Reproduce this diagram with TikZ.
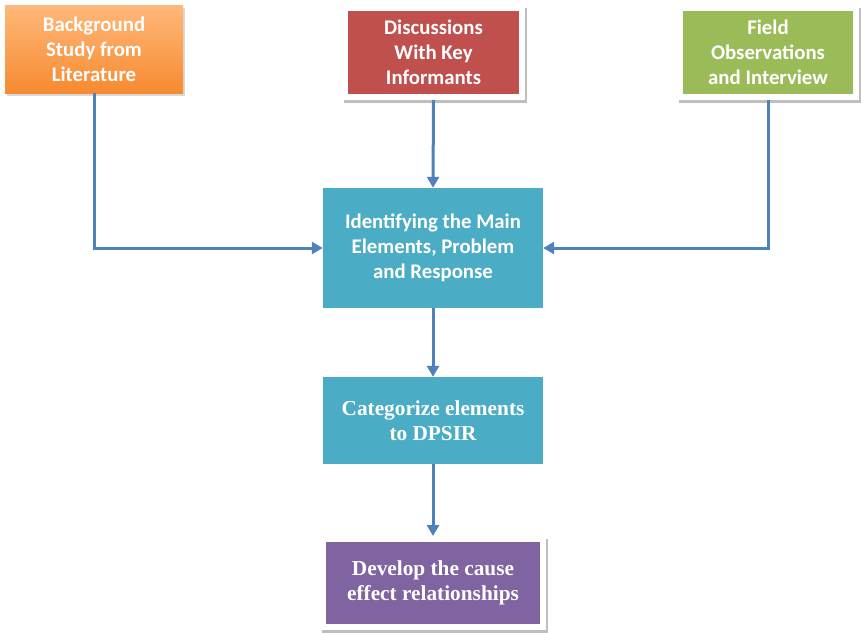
\documentclass[tikz,border=0pt]{standalone}
\usepackage{fontspec}
\usepackage{xcolor}
\usepackage{tikz}
\usetikzlibrary{arrows.meta, positioning, shadows}
\newfontfamily\boxsans{Carlito}
\newfontfamily\boxserif{Liberation Serif}
\definecolor{flowblue}{RGB}{79,129,189}
\definecolor{littop}{RGB}{255,184,122}
\definecolor{litbottom}{RGB}{247,138,48}
\definecolor{keyred}{RGB}{192,80,77}
\definecolor{fieldgreen}{RGB}{155,187,89}
\definecolor{stepteal}{RGB}{75,172,198}
\definecolor{causepurple}{RGB}{128,100,162}

\begin{document}
\begin{tikzpicture}[x=1pt, y=-1pt,
    every node/.style={text=white, align=center, inner sep=0pt},
    sanstext/.style={font=\boxsans\bfseries\fontsize{20.8}{25}\selectfont},
    seriftext/.style={font=\boxserif\bfseries\fontsize{21.3}{25}\selectfont},
    framed/.style={draw=white, line width=6pt,
        general shadow={fill=black, draw=black, line width=6pt, opacity=0.25, shadow xshift=1.5pt, shadow yshift=-3pt}},
    flow/.style={draw=flowblue, line width=3pt, -{Triangle[length=11pt, width=12pt]}}]
            \useasboundingbox (0,0) rectangle (861,632);
            % source boxes
            \node[sanstext, minimum width=178, minimum height=88,
                top color=littop, bottom color=litbottom,
                drop shadow={shadow xshift=2pt, shadow yshift=-3pt, opacity=0.3}]
                (lit) at (94,49) {Background\\Study from\\Literature};
            \node[sanstext, framed, fill=keyred, minimum width=177, minimum height=89]
                (key) at (433.5,52.5) {Discussions\\With Key\\Informants};
            \node[sanstext, framed, fill=fieldgreen, minimum width=176, minimum height=89]
                (field) at (768,52.5) {Field\\Observations\\and Interview};
            % process steps
            \node[sanstext, fill=stepteal, minimum width=220, minimum height=120]
                (ident) at (433,248) {Identifying the Main\\Elements, Problem\\and Response};
            \node[seriftext, fill=stepteal, minimum width=220, minimum height=87]
                (categ) at (433,420.5) {Categorize elements\\to DPSIR};
            \node[seriftext, framed, fill=causepurple, minimum width=220, minimum height=88]
                (cause) at (433,583) {Develop the cause\\effect relationships};
            % connectors
            \draw[flow] (lit.south) |- (ident.west);
            \draw[flow] (key.south) -- (ident.north);
            \draw[flow] (field.south) |- (ident.east);
            \draw[flow] (ident.south) -- (categ.north);
            \draw[flow] (categ.south) -- (cause.north);
        \end{tikzpicture}
\end{document}
